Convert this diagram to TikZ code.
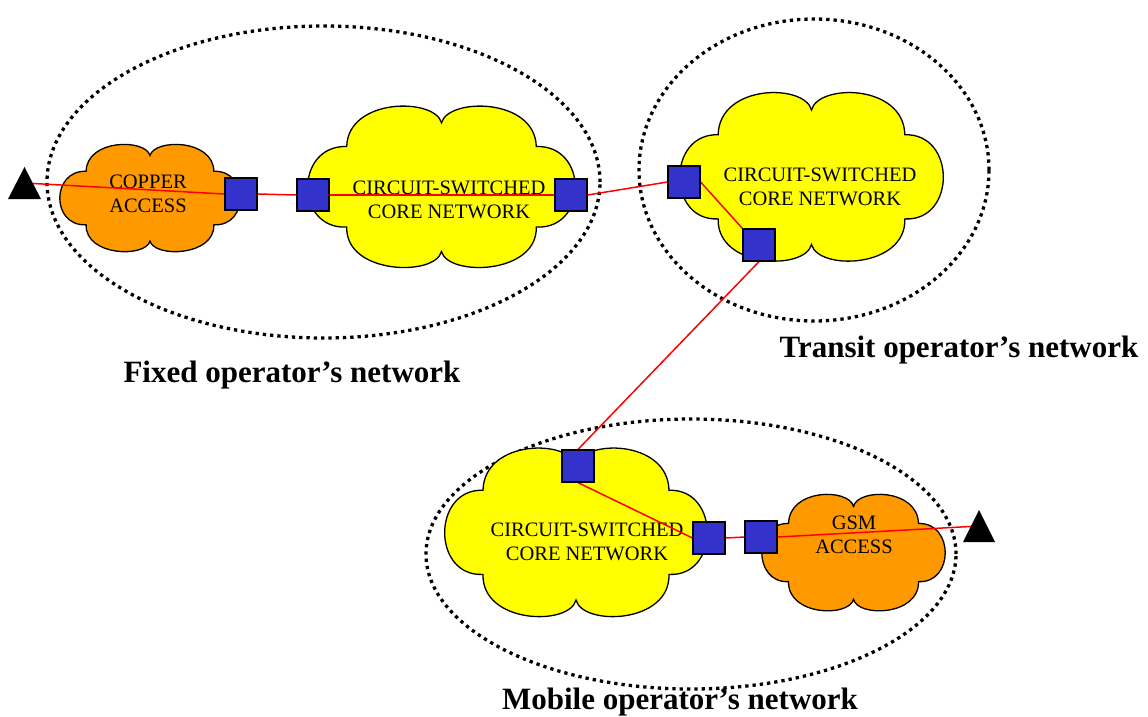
\documentclass[tikz,border=0pt]{standalone}
\usepackage{fontspec}
\setmainfont{Liberation Serif}
\pgfdeclarelayer{back}
\pgfdeclarelayer{wires}
\pgfsetlayers{back,wires,main}

\definecolor{cloudyellow}{RGB}{255,255,0}
\definecolor{cloudorange}{RGB}{255,153,0}
\definecolor{switchblue}{RGB}{51,51,204}
\definecolor{wirered}{RGB}{255,0,0}

\tikzset{
  opdomain/.style={draw=black, line width=3.3pt, dash pattern=on 3.3pt off 4pt},
  cloudline/.style={draw=black, line width=1.3pt},
  switchbox/.style={draw=black, line width=1.2pt, fill=switchblue,
    minimum size=32pt, inner sep=0pt},
  wire/.style={draw=wirered, line width=1.5pt},
  cloudtext/.style={font=\fontsize{20.5}{24.5}\selectfont, align=center, inner sep=0pt},
  oplabel/.style={font=\fontsize{31}{36}\selectfont\bfseries, anchor=base, inner sep=0pt},
}

% six-lobed cloud: centre x, centre y, half width, half height, fill colour
\newcommand\puffcloud[5]{%
  \begin{scope}[shift={(#1,#2)}, x={(#3pt,0pt)}, y={(0pt,#4pt)}]
    \path[cloudline, fill=#5] (0,0.8)
      .. controls (-0.05,1.12) and (-0.70,1.12) .. (-0.71,0.5)
      .. controls (-1.1,0.52) and (-1.1,-0.55) .. (-0.71,-0.52)
      .. controls (-0.72,-1.12) and (-0.05,-1.15) .. (0,-0.83)
      .. controls (0.05,-1.15) and (0.72,-1.12) .. (0.71,-0.52)
      .. controls (1.1,-0.55) and (1.1,0.52) .. (0.71,0.5)
      .. controls (0.70,1.12) and (0.05,1.12) .. (0,0.8) -- cycle;
  \end{scope}}

\begin{document}
\begin{tikzpicture}[x=1pt, y=-1pt]
  \useasboundingbox (0,0) rectangle (1148,716);

  \begin{pgfonlayer}{back}
    \fill[white] (0,0) rectangle (1148,716);
    % operator domains
    \draw[opdomain] (323.5,182) ellipse [x radius=276.5pt, y radius=156pt];
    \draw[opdomain] (814,170) ellipse [x radius=175pt, y radius=151pt];
    \draw[opdomain] (691,554) ellipse [x radius=265pt, y radius=135pt];

    % access and core clouds
    \puffcloud{150}{197.5}{90}{52.5}{cloudorange}
    \puffcloud{441.5}{186}{133.5}{79}{cloudyellow}
    \puffcloud{811.5}{176}{131.5}{82.5}{cloudyellow}
    \puffcloud{576}{531.5}{131}{82.5}{cloudyellow}
    \puffcloud{853.5}{552}{91.5}{57}{cloudorange}

    \node[cloudtext] (coppertxt) at (148,194) {COPPER\\ACCESS};
    \node[cloudtext] (fixedcore) at (449,200) {CIRCUIT-SWITCHED\\CORE NETWORK};
    \node[cloudtext] (transcore) at (820,187) {CIRCUIT-SWITCHED\\CORE NETWORK};
    \node[cloudtext] (mobcore) at (587,542) {CIRCUIT-SWITCHED\\CORE NETWORK};
    \node[cloudtext] (gsmtxt) at (854,535) {GSM\\ACCESS};
  \end{pgfonlayer}

  % terminals
  \coordinate (tl) at (24.5,183);
  \coordinate (tr) at (979,526);
  \fill (tl) ++(0,-16) -- ++(16.5,32) -- ++(-33,0) -- cycle;
  \fill (tr) ++(0,-16) -- ++(16,32) -- ++(-32,0) -- cycle;

  % switches
  \node[switchbox] (b1) at (241,194) {};
  \node[switchbox] (b2) at (313,195) {};
  \node[switchbox] (b3) at (571,195) {};
  \node[switchbox] (b4) at (684,182) {};
  \node[switchbox] (b5) at (759,245) {};
  \node[switchbox] (b6) at (578,466) {};
  \node[switchbox] (b7) at (709,538) {};
  \node[switchbox] (b8) at (761,537) {};

  % call path
  \begin{pgfonlayer}{wires}
    \draw[wire] (tl) -- (b1.west);
    \draw[wire] (b1.east) -- (b2.west);
    \draw[wire] (b2.east) -- (b3.west);
    \draw[wire] (b3.east) -- (b4.west);
    \draw[wire] (b4.east) -- (b5.north west);
    \draw[wire] (b5.south) -- (b6.north);
    \draw[wire] (b6.south) -- (b7.west);
    \draw[wire] (b7.east) -- (b8.west);
    \draw[wire] (b8.east) -- (tr);
  \end{pgfonlayer}

  % operator labels
  \node[oplabel] (fixedlbl) at (292,382) {Fixed operator’s network};
  \node[oplabel] (translbl) at (959,357) {Transit operator’s network};
  \node[oplabel] (moblbl) at (680,709) {Mobile operator’s network};
\end{tikzpicture}
\end{document}
